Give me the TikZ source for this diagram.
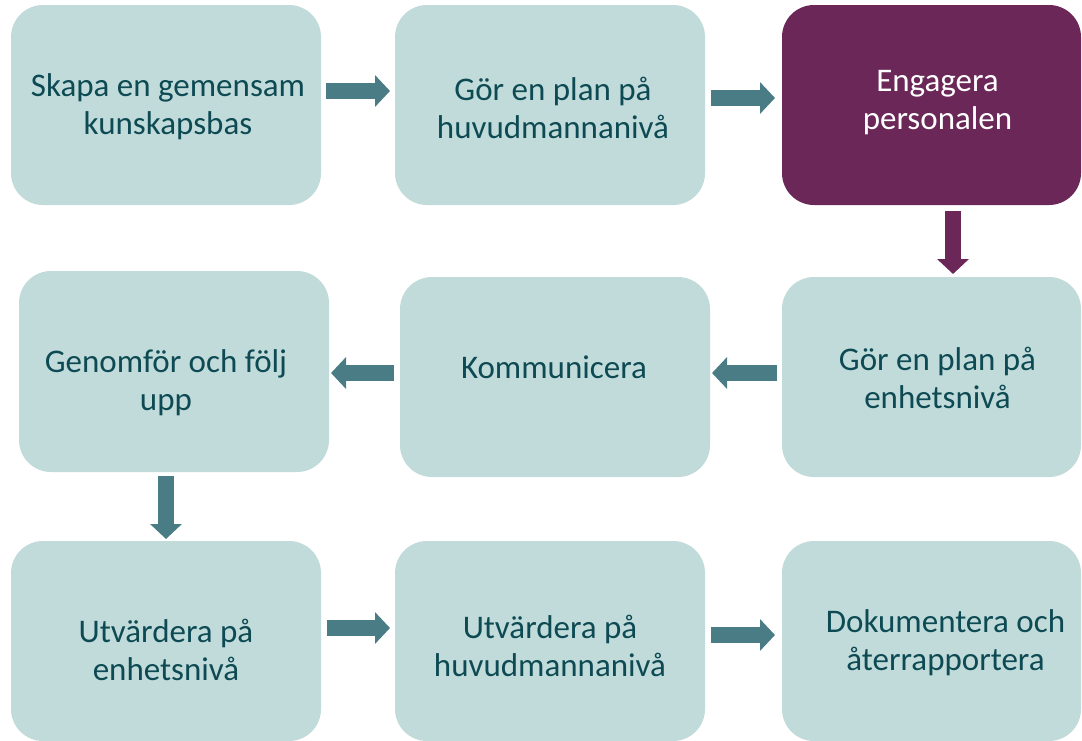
\documentclass[tikz,border=0pt]{standalone}
\usepackage{fontspec}
\setmainfont{Carlito}
\usetikzlibrary{arrows.meta}
\definecolor{boxfill}{HTML}{C1DBDA}
\definecolor{boxtext}{HTML}{0D4A53}
\definecolor{arrowteal}{HTML}{4A7C86}
\definecolor{plum}{HTML}{6B2758}
\tikzset{
  stepbox/.style={fill=boxfill, rounded corners=32pt, inner sep=0pt, outer sep=0pt,
    minimum width=310pt, minimum height=200pt},
  narrowbox/.style={stepbox, minimum width=299pt},
  hotbox/.style={narrowbox, fill=plum},
  steptext/.style={text=boxtext, inner sep=0pt, align=center, font=\fontsize{33}{38}\selectfont},
  hottext/.style={steptext, text=white},
  conn/.style={draw=arrowteal, line width=16pt, line cap=butt,
    -{Triangle[width=31pt, length=15pt]}},
  hotconn/.style={conn, draw=plum},
}
\begin{document}
\begin{tikzpicture}[x=1pt, y=-1pt]
\useasboundingbox (0,0) rectangle (1082,740);
\node[stepbox] (A) at (166,105) {};
\node[stepbox] (B) at (550,105) {};
\node[hotbox] (C) at (931.5,105) {};
\node[stepbox, minimum height=201pt] (D) at (174,371.5) {};
\node[stepbox] (E) at (555,377) {};
\node[narrowbox] (F) at (931.5,377) {};
\node[stepbox] (G) at (166,641) {};
\node[stepbox] (H) at (550,641) {};
\node[narrowbox] (I) at (931.5,641) {};

\node[steptext] (At) at ([xshift=2pt,yshift=-2pt]A.center) {Skapa en gemensam\\kunskapsbas};
\node[steptext] (Bt) at ([xshift=3pt,yshift=-3pt]B.center) {Gör en plan på\\huvudmannanivå};
\node[hottext] (Ct) at ([xshift=6pt,yshift=2pt]C.center) {Engagera\\personalen};
\node[steptext] (Dt) at ([xshift=-8pt,yshift=-11pt]D.center) {Genomför och följ\\upp};
\node[steptext] (Et) at ([xshift=-1pt,yshift=10pt]E.center) {Kommunicera};
\node[steptext] (Ft) at ([xshift=6pt,yshift=-1pt]F.center) {Gör en plan på\\enhetsnivå};
\node[steptext] (Gt) at ([yshift=-9pt]G.center) {Utvärdera på\\enhetsnivå};
\node[steptext] (Ht) at ([yshift=-5pt]H.center) {Utvärdera på\\huvudmannanivå};
\node[steptext] (It) at ([xshift=14pt,yshift=-2pt]I.center) {Dokumentera och\\återrapportera};

\draw[conn] ([xshift=5pt]A.east |- 0,91) -- ([xshift=-5pt]B.west |- 0,91);
\draw[conn] ([xshift=6pt]B.east |- 0,98) -- ([xshift=-7pt]C.west |- 0,98);
\draw[hotconn] ([yshift=-6pt]C.south -| 953,0) -- ([yshift=3pt]F.north -| 953,0);
\draw[conn] ([xshift=-5pt]F.west |- 0,373) -- ([xshift=2pt]E.east |- 0,373);
\draw[conn] ([xshift=-6pt]E.west |- 0,373) -- ([xshift=2pt]D.east |- 0,373);
\draw[conn] ([yshift=-4pt]D.south -| 166,0) -- ([yshift=2pt]G.north -| 166,0);
\draw[conn] ([xshift=6pt]G.east |- 0,628) -- ([xshift=-5pt]H.west |- 0,628);
\draw[conn] ([xshift=6pt]H.east |- 0,635) -- ([xshift=-7pt]I.west |- 0,635);
\end{tikzpicture}
\end{document}
